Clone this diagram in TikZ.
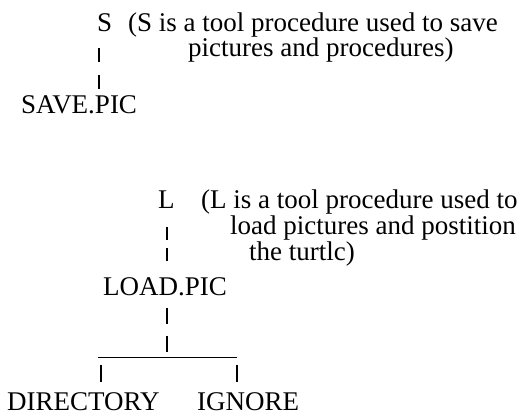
\documentclass[tikz,border=0pt]{standalone}
\usepackage{fontspec}
\setmainfont{Liberation Serif}
\begin{document}
\begin{tikzpicture}[x=1pt,y=-1pt,
  lbl/.style={anchor=base west, inner sep=0pt, font=\fontsize{27}{30}\selectfont},
  bar/.style={line width=1.3pt, black},
  rule/.style={line width=1pt, black}]
\useasboundingbox (0,0) rectangle (526,415);
% S block
\node[lbl] (S) at (97,31) {S};
\node[lbl] (sc1) at (128,31) {(S is a tool procedure used to save};
\node[lbl] (sc2) at (188,56) {pictures and procedures)};
\node[lbl] (sp) at (21,113) {SAVE.PIC};
\coordinate (sx) at ([xshift=2pt]S.south west);
\draw[bar, dash pattern=on 14pt off 13pt, shorten <=17pt, shorten >=5pt] (sx) -- (sx |- sp.north);
% L block
\node[lbl] (L) at (158,208) {L};
\node[lbl] (lc1) at (201,208) {(L is a tool procedure used to};
\node[lbl] (lc2) at (230,234) {load pictures and postition};
\node[lbl] (lc3) at (249,260) {the turtlc)};
\node[lbl] (lp) at (103,295) {LOAD.PIC};
\coordinate (lx) at ([xshift=9pt]L.south west);
\draw[bar, dash pattern=on 13pt off 8pt, shorten <=19pt, shorten >=12pt] (lx) -- (lx |- lp.north);
% tree
\node[lbl] (dir) at (7,410) {DIRECTORY};
\node[lbl] (ign) at (197,410) {IGNORE};
\coordinate (j) at (167,357);
\coordinate (hl) at (98,357);
\coordinate (hr) at (237,357);
\coordinate (dl) at (101,357);
\draw[bar, dash pattern=on 16pt off 12pt, shorten <=12pt] (lx |- lp.south) -- (j);
\draw[rule] (hl) -- (hr);
\draw[bar, shorten <=8pt, shorten >=10pt] (dl) -- (dl |- dir.north);
\draw[bar, shorten <=8pt, shorten >=10pt] (hr) -- (hr |- ign.north);
\end{tikzpicture}
\end{document}
